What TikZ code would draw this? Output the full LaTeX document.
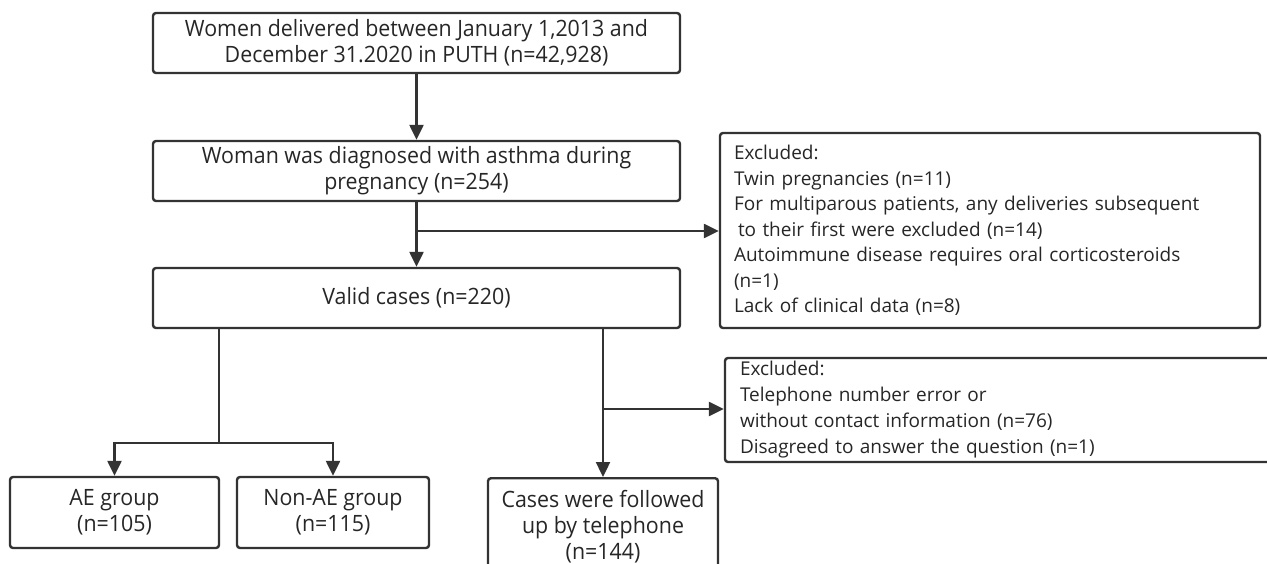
\documentclass[tikz,border=0pt]{standalone}
\usepackage{fontspec}
\setmainfont{Open Sans}
\newfontfamily\condfont[FakeStretch=0.95]{Open Sans}
\usetikzlibrary{arrows.meta}
\definecolor{ln}{HTML}{333333}
\definecolor{tx}{HTML}{262626}
\tikzset{
  box/.style={draw=ln, line width=2.4pt, rounded corners=3pt, text=tx, inner sep=0pt,
    align=center, font=\condfont\fontsize{22.5}{26}\selectfont},
  exbox/.style={draw=ln, line width=2.4pt, rounded corners=3pt, text=tx, inner xsep=14pt, inner ysep=0pt,
    align=left, font=\fontsize{19}{25.5}\selectfont},
  arr/.style={draw=ln, line width=2.4pt, -{Triangle[width=14pt,length=15pt]}},
  ln/.style={draw=ln, line width=2.4pt},
}
\begin{document}
\begin{tikzpicture}[x=1pt,y=-1pt]
\useasboundingbox (0,0) rectangle (1267,564);
\clip (0,0) rectangle (1267,564);
\node[box, minimum width=527pt, minimum height=60pt] (b1) at (416.5,43)
  {Women delivered between January 1,2013 and\\December 31.2020 in PUTH (n=42,928)};
\node[box, minimum width=527pt, minimum height=60pt] (b2) at (416.5,171)
  {Woman was diagnosed with asthma during\\pregnancy (n=254)};
\node[box, minimum width=527pt, minimum height=60pt] (b3) at (416.5,298)
  {Valid cases (n=220)};
\node[exbox, minimum width=540pt, minimum height=195pt, text width=512pt] (ex1) at (990,230.5)
  {Excluded:\\Twin pregnancies (n=11)\\For multiparous patients, any deliveries subsequent\\\hspace*{4pt}to their first were excluded (n=14)\\Autoimmune disease requires oral corticosteroids\\(n=1)\\Lack of clinical data (n=8)};
\node[exbox, inner xsep=15pt, minimum width=550pt, minimum height=104pt, text width=520pt, font=\fontsize{19}{26}\selectfont] (ex2) at (1000,410)
  {Excluded:\\Telephone number error or\\without contact information (n=76)\\Disagreed to answer the question (n=1)};
\node[box, minimum width=209pt, minimum height=71pt] (ae) at (114.5,512.5)
  {AE group\\(n=105)};
\node[box, minimum width=192pt, minimum height=71pt] (nae) at (333,512.5)
  {Non-AE group\\(n=115)};
\node[box, minimum width=230pt, minimum height=96pt, anchor=north] (cs) at (603,477)
  {Cases were followed\\up by telephone\\(n=144)};
\coordinate (j1) at (416.5,231);
\coordinate (s1) at (219,443);
\coordinate (s2) at (603,409);
\draw[arr] (b1.south) -- (b2.north);
\draw[arr] (b2.south) -- (b3.north);
\draw[arr] (j1) -- (j1 -| ex1.west);
\draw[ln] (b3.south -| s1) -- (s1);
\draw[arr] (s1) -| (ae.north);
\draw[arr] (s1) -| (nae.north);
\draw[arr] (b3.south -| cs.north) -- (cs.north);
\draw[arr] (s2) -- (s2 -| ex2.west);
\end{tikzpicture}
\end{document}
